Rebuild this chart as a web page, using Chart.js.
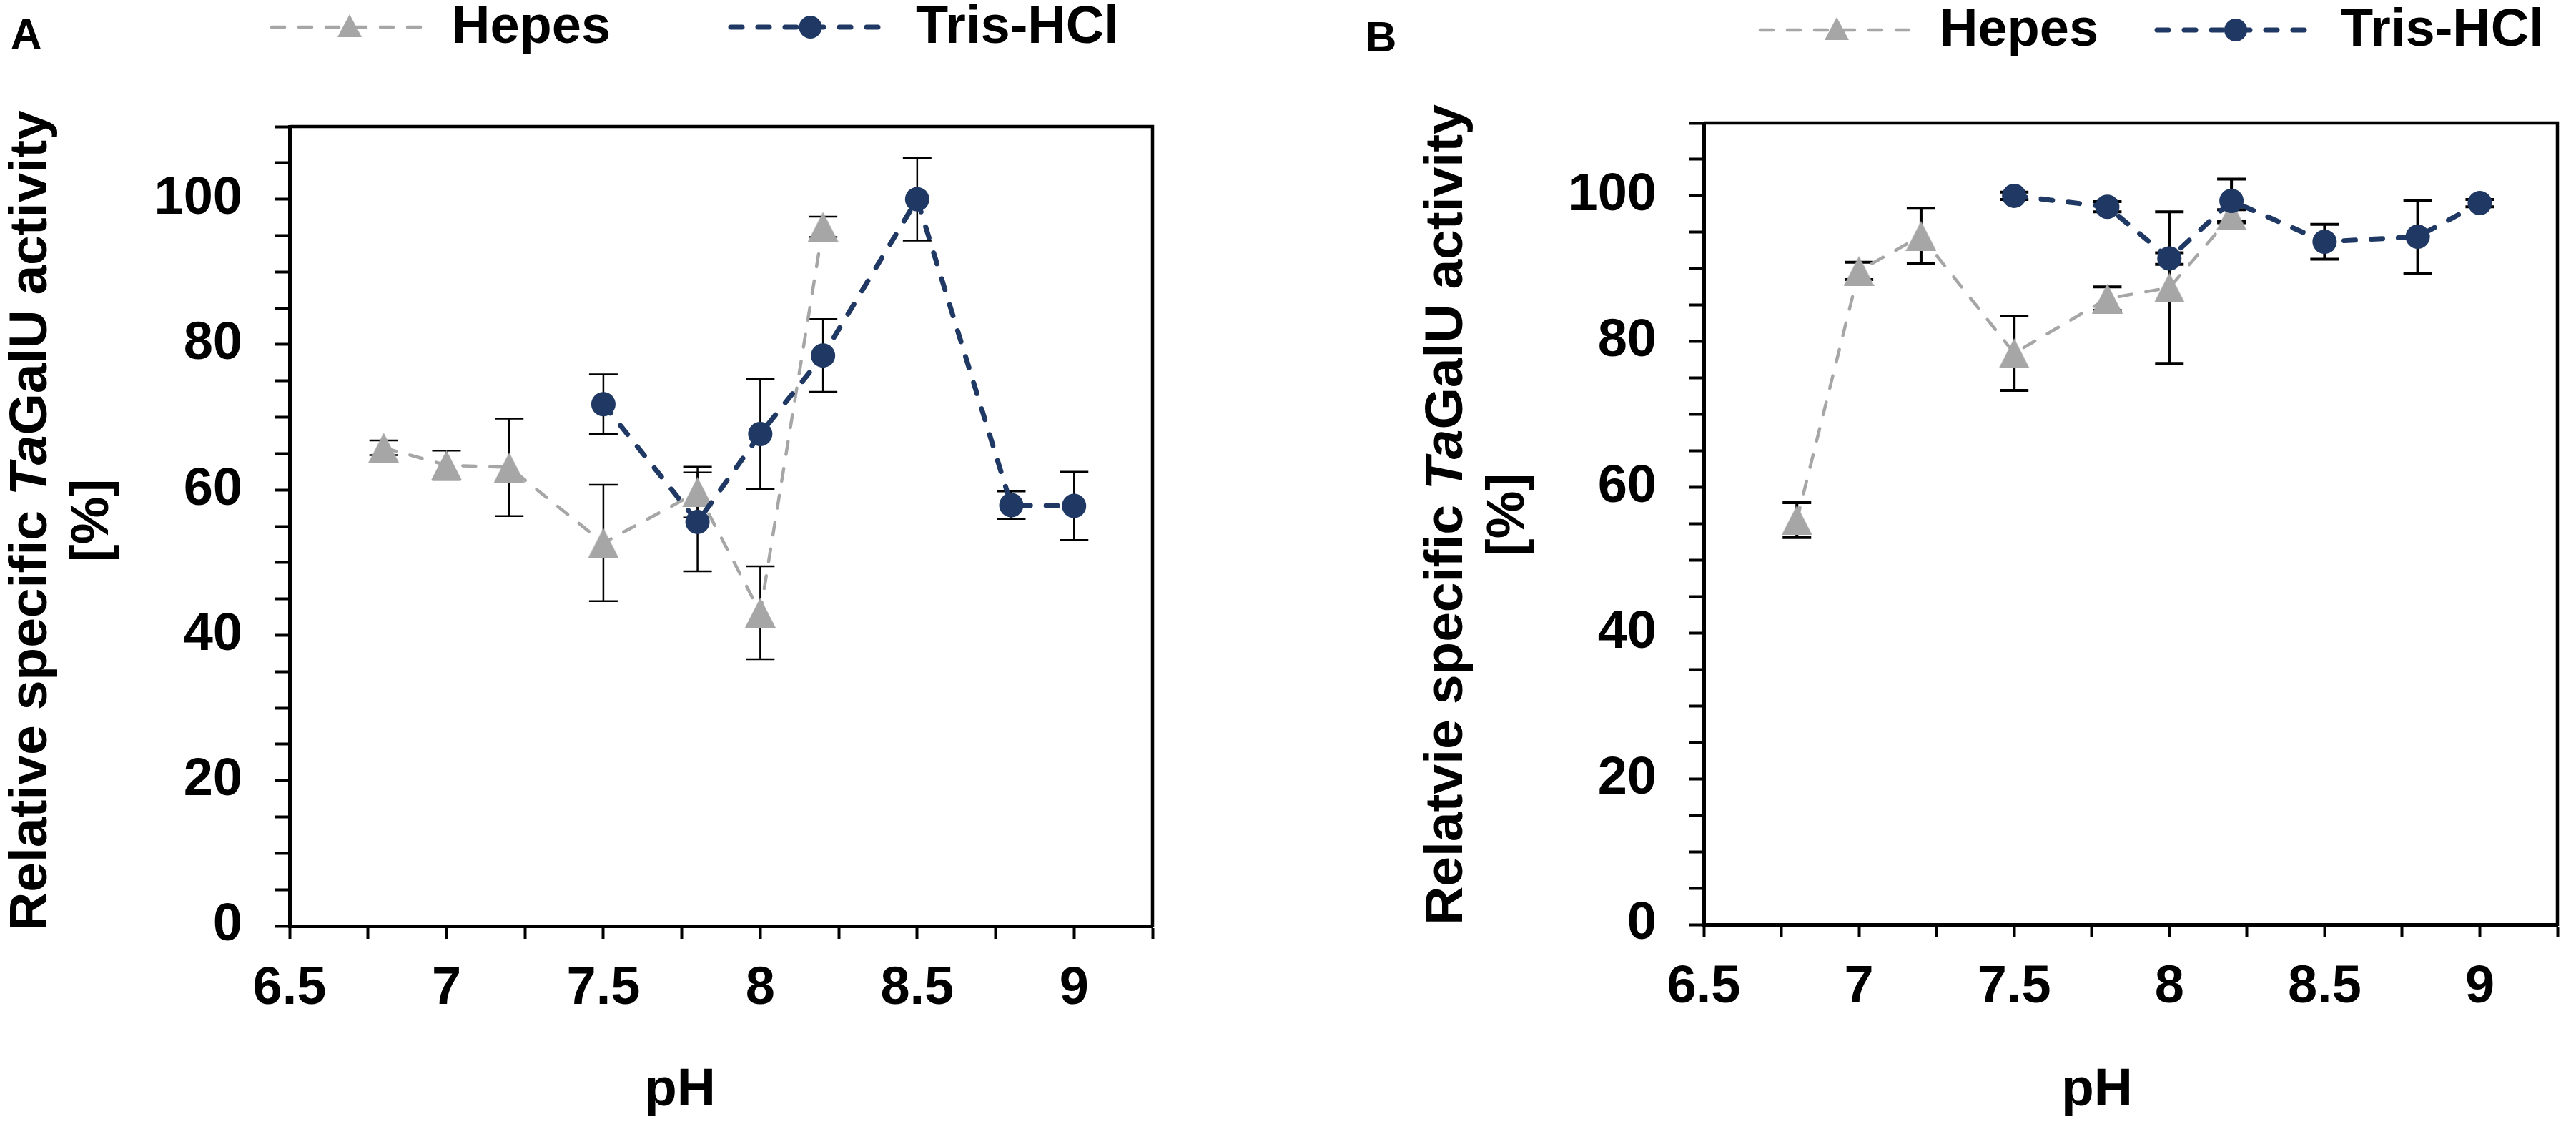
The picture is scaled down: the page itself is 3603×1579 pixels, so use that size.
<!DOCTYPE html>
<html>
<head>
<meta charset="utf-8">
<title>TaGalU pH profile</title>
<script src="https://cdn.jsdelivr.net/npm/chart.js@4.4.1/dist/chart.umd.min.js"></script>
<style>
  html, body { margin: 0; padding: 0; background: #fff; }
  body { width: 3603px; height: 1579px; position: relative; overflow: hidden; }
  canvas { position: absolute; top: 0; }
  #chartA { left: 0; }
  #chartB { left: 1800px; }
</style>
</head>
<body>
<canvas id="chartA" width="1800" height="1579"></canvas>
<canvas id="chartB" width="1803" height="1579"></canvas>
<script>
// pH values of each buffer series
const phHepes = [6.8, 7.0, 7.2, 7.5, 7.8, 8.0, 8.2];
const phTris = [7.5, 7.8, 8.0, 8.2, 8.5, 8.8, 9.0];

// panel A
const hepesA = [65.8, 63.4, 63.1, 52.7, 59.7, 43.1, 96.2];
const hepesErrA = [1.0, 2.0, 6.7, 8.0, 3.5, 6.4, 1.4];
const trisA = [71.8, 55.6, 67.7, 78.5, 100, 57.9, 57.8];
const trisErrA = [4.1, 6.8, 7.6, 5.0, 5.7, 1.9, 4.7];

// panel B
const hepesB = [55.5, 89.7, 94.5, 78.4, 85.9, 87.4, 97.3];
const hepesErrB = [2.4, 1.2, 3.8, 5.1, 1.6, 10.4, 0.8];
const trisB = [100, 98.5, 91.4, 99.3, 93.7, 94.4, 99.0];
const trisErrB = [0.5, 0.7, 0.8, 3.0, 2.4, 5.0, 0.5];

const seriesNames = ['Hepes', 'Tris-HCl'];
const xTickLabels = ['6.5', '7', '7.5', '8', '8.5', '9'];
const yTickLabels = ['0', '20', '40', '60', '80', '100'];
const xTitle = 'pH';
const yTitleA = ['Relative specific ', 'Ta', 'GalU activity'];
const yTitleB = ['Relatvie specific ', 'Ta', 'GalU activity'];
const yTitle2 = '[%]';

const GREY = '#A6A6A6';
const NAVY = '#1F3864';
const FAMILY = '"Liberation Sans", Arial, sans-serif';
Chart.defaults.font.family = FAMILY;

function triangle(w, h, color) {
  const c = document.createElement('canvas');
  c.width = w; c.height = h;
  const g = c.getContext('2d');
  g.fillStyle = color;
  g.beginPath();
  g.moveTo(w / 2, 0);
  g.lineTo(w, h);
  g.lineTo(0, h);
  g.closePath();
  g.fill();
  return c;
}
const triPlot = triangle(43, 42, GREY);
const triLegend = triangle(34, 32, GREY);

const errorBars = {
  id: 'errorBars',
  beforeDatasetsDraw(chart, args, opts) {
    const { ctx, scales: { x, y } } = chart;
    ctx.save();
    ctx.strokeStyle = '#000';
    ctx.lineWidth = opts.width;
    chart.data.datasets.forEach(ds => {
      ds.data.forEach((p, j) => {
        const e = ds.errors[j];
        const px = x.getPixelForValue(p.x);
        const top = y.getPixelForValue(p.y + e);
        const bot = y.getPixelForValue(p.y - e);
        ctx.beginPath();
        ctx.moveTo(px, top); ctx.lineTo(px, bot);
        ctx.moveTo(px - opts.cap, top); ctx.lineTo(px + opts.cap, top);
        ctx.moveTo(px - opts.cap, bot); ctx.lineTo(px + opts.cap, bot);
        ctx.stroke();
      });
    });
    ctx.restore();
  }
};

const decor = {
  id: 'decor',
  afterDraw(chart, args, o) {
    const { ctx, chartArea: a } = chart;
    const bold = '700 75px ' + FAMILY;
    const ital = 'italic 700 75px ' + FAMILY;
    ctx.save();

    // top and right frame of the plot area
    ctx.strokeStyle = '#000';
    ctx.lineWidth = 4.5;
    ctx.beginPath();
    ctx.moveTo(a.left, a.top);
    ctx.lineTo(a.right, a.top);
    ctx.lineTo(a.right, a.bottom + 2);
    ctx.stroke();

    ctx.fillStyle = '#000';
    ctx.textBaseline = 'alphabetic';

    // y title, first line with italic "Ta"
    const parts = o.yTitle.map((t, k) => ({ t, f: k === 1 ? ital : bold }));
    let total = 0;
    parts.forEach(p => { ctx.font = p.f; p.w = ctx.measureText(p.t).width; total += p.w; });
    ctx.save();
    ctx.translate(o.yTitleX, o.yTitleY);
    ctx.rotate(-Math.PI / 2);
    ctx.textAlign = 'left';
    let cx = -total / 2;
    parts.forEach(p => { ctx.font = p.f; ctx.fillText(p.t, cx, 0); cx += p.w; });
    ctx.restore();

    ctx.save();
    ctx.translate(o.yTitleX + 86, o.yTitleY);
    ctx.rotate(-Math.PI / 2);
    ctx.font = bold;
    ctx.textAlign = 'center';
    ctx.fillText(yTitle2, 0, 0);
    ctx.restore();

    // x title
    ctx.font = bold;
    ctx.textAlign = 'center';
    ctx.fillText(xTitle, o.xTitleX, 1546);

    // panel letter
    ctx.font = '700 60px ' + FAMILY;
    ctx.textAlign = 'left';
    ctx.fillText(o.letter, o.letterX, o.letterY);

    // legend: dashed line with marker, then label
    ctx.font = '700 74px ' + FAMILY;
    ctx.textBaseline = 'middle';
    chart.data.datasets.forEach((ds, i) => {
      const L = o.legend[i];
      ctx.save();
      ctx.strokeStyle = ds.borderColor;
      ctx.lineWidth = ds.borderWidth;
      ctx.lineCap = 'round';
      ctx.setLineDash(ds.borderDash);
      ctx.beginPath();
      ctx.moveTo(L.x0, o.legendY);
      ctx.lineTo(L.x1, o.legendY);
      ctx.stroke();
      ctx.restore();
      const mx = (L.x0 + L.x1) / 2;
      if (i === 0) {
        ctx.drawImage(triLegend, mx - triLegend.width / 2, o.legendY - triLegend.height / 2 - 2);
      } else {
        ctx.fillStyle = ds.borderColor;
        ctx.beginPath();
        ctx.arc(mx, o.legendY, 16, 0, Math.PI * 2);
        ctx.fill();
      }
      ctx.fillStyle = '#000';
      ctx.fillText(ds.label, L.tx, o.legendY + 2);
    });
    ctx.restore();
  }
};

const tickFont = { size: 74, weight: 'bold', family: FAMILY };
const near = (v, labels) => {
  const s = String(+v.toFixed(2));
  return labels.includes(s) ? s : '';
};

function makeChart(id, p) {
  return new Chart(document.getElementById(id), {
    type: 'line',
    data: {
      datasets: [
        {
          label: seriesNames[0],
          data: phHepes.map((x, i) => ({ x, y: p.hepes[i] })),
          errors: p.hepesErr,
          order: 1,
          borderColor: GREY,
          backgroundColor: GREY,
          borderWidth: 4.5,
          borderDash: [18, 20],
          borderCapStyle: 'round',
          pointStyle: triPlot,
          pointRadius: 21,
          pointBorderWidth: 0
        },
        {
          label: seriesNames[1],
          data: phTris.map((x, i) => ({ x, y: p.tris[i] })),
          errors: p.trisErr,
          order: 0,
          borderColor: NAVY,
          backgroundColor: NAVY,
          borderWidth: 7,
          borderDash: [16, 22],
          borderCapStyle: 'round',
          pointStyle: 'circle',
          pointRadius: 17,
          pointBorderWidth: 0
        }
      ]
    },
    options: {
      responsive: false,
      animation: false,
      devicePixelRatio: 1,
      events: [],
      layout: { padding: p.pad },
      plugins: {
        legend: { display: false },
        tooltip: { enabled: false },
        errorBars: { width: p.errWidth, cap: 20 },
        decor: p.decor
      },
      scales: {
        x: {
          type: 'linear',
          min: 6.5,
          max: 9.25,
          afterFit: s => { s.height = p.xHeight; },
          ticks: {
            stepSize: 0.25,
            autoSkip: false,
            maxRotation: 0,
            padding: 26,
            color: '#000',
            font: tickFont,
            callback: v => near(v, xTickLabels)
          },
          grid: { drawOnChartArea: false, tickLength: 18, tickWidth: 4, tickColor: '#000' },
          border: { color: '#000', width: 5 }
        },
        y: {
          min: 0,
          max: 110,
          afterFit: s => { s.width = p.yWidth; },
          ticks: {
            stepSize: 5,
            autoSkip: false,
            padding: 46,
            color: '#000',
            font: tickFont,
            callback: v => near(v, yTickLabels)
          },
          grid: { drawOnChartArea: false, tickLength: 20, tickWidth: 4, tickColor: '#000' },
          border: { color: '#000', width: 5 }
        }
      }
    },
    plugins: [errorBars, decor]
  });
}

makeChart('chartA', {
  hepes: hepesA, hepesErr: hepesErrA, tris: trisA, trisErr: trisErrA,
  pad: { left: 0, top: 177, right: 188, bottom: 0 },
  yWidth: 405, xHeight: 284, errWidth: 2.5,
  decor: {
    yTitle: yTitleA, yTitleX: 65, yTitleY: 728, xTitleX: 951,
    letter: 'A', letterX: 15, letterY: 68,
    legendY: 38,
    legend: [{ x0: 380, x1: 598, tx: 632 }, { x0: 1022, x1: 1245, tx: 1281 }]
  }
});

makeChart('chartB', {
  hepes: hepesB, hepesErr: hepesErrB, tris: trisB, trisErr: trisErrB,
  pad: { left: 0, top: 172, right: 10, bottom: 0 },
  yWidth: 583, xHeight: 286, errWidth: 4,
  decor: {
    yTitle: yTitleB, yTitleX: 245, yTitleY: 720, xTitleX: 1133,
    letter: 'B', letterX: 110, letterY: 72,
    legendY: 42,
    legend: [{ x0: 662, x1: 876, tx: 913 }, { x0: 1217, x1: 1437, tx: 1474 }]
  }
});
</script>
</body>
</html>
